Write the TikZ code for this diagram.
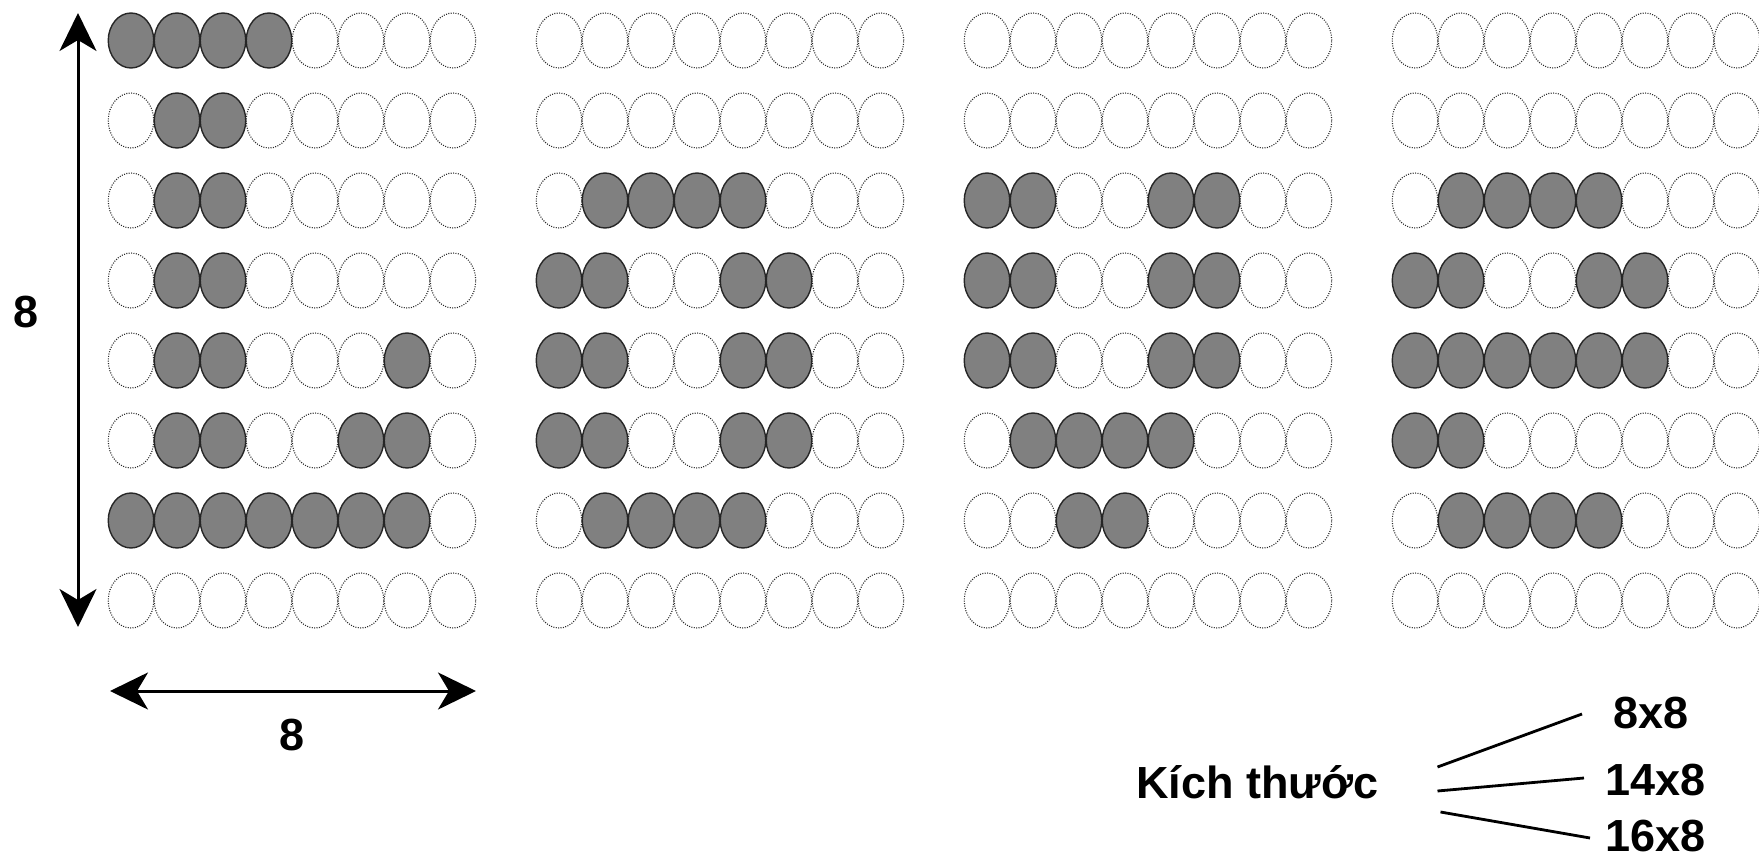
\documentclass[tikz,border=0pt]{standalone}
\usepackage{fontspec}
\setmainfont{Liberation Sans}
\usepackage{xstring}
\usetikzlibrary{calc,positioning,arrows.meta,shapes.geometric}
\definecolor{dotfill}{HTML}{808080}
\definecolor{dotline}{HTML}{2A2A2A}
\definecolor{ink}{HTML}{000000}
\newcommand{\LabelF}{\fontsize{45}{48}\selectfont\bfseries}
\tikzset{
  >={Stealth[length=38pt,width=37pt,inset=11pt]},
  % one cell of a grid
  dotempty/.style={ellipse, minimum width=45.5pt, minimum height=55pt, inner sep=0pt,
                   draw=dotline, dash pattern=on 1pt off 1.4pt, line width=1.1pt},
  dotfull/.style={ellipse, minimum width=45.5pt, minimum height=55pt, inner sep=0pt,
                  fill=dotfill, draw=ink!85, line width=1.4pt},
  dimarrow/.style={<->, draw=ink, line width=3pt},
  lbl/.style={font=\LabelF, text=ink, inner sep=0pt},
  fan/.style={draw=ink, line width=2.8pt},
}
% #1 left edge, #2 name, #3 rows (1 = filled)
\newcommand{\dotgrid}[3]{%
  \foreach \bits [count=\r] in {#3} {
    \foreach \c in {1,...,8} {
      \StrChar{\bits}{\c}[\dotbit]
      \ifnum\dotbit=1
        \node[dotfull] (#2-\r-\c) at (#1+46*\c-23, 40.5+80*\r-80) {};
      \else
        \node[dotempty] (#2-\r-\c) at (#1+46*\c-23, 40.5+80*\r-80) {};
      \fi
    }
  }
}

\begin{document}
\begin{tikzpicture}[x=1pt,y=-1pt]
  \useasboundingbox (0,0) rectangle (1759,859);
  % the four glyph grids
  \dotgrid{108}{ga}{11110000,01100000,01100000,01100000,01100010,01100110,11111110,00000000}
  \dotgrid{536}{gb}{00000000,00000000,01111000,11001100,11001100,11001100,01111000,00000000}
  \dotgrid{964}{gc}{00000000,00000000,11001100,11001100,11001100,01111000,00110000,00000000}
  \dotgrid{1392}{gd}{00000000,00000000,01111000,11001100,11111100,11000000,01111000,00000000}
  % dimensions
  \coordinate (vtop) at (78,13);
  \coordinate (vbot) at (78,627);
  \coordinate (hleft) at (110,691);
  \coordinate (hright) at (476,691);
  \draw[dimarrow] (vtop) -- (vbot);
  \draw[dimarrow] (hleft) -- (hright);
  \node[lbl, anchor=base] (rows) at (26,327) {8};
  \node[lbl, anchor=base] (cols) at (292,750) {8};
  % sizes
  \node[lbl, anchor=base west] (kt) at (1136,798) {Kích thước};
  \node[lbl, anchor=base west] (s8) at (1613,728) {8x8};
  \node[lbl, anchor=base west] (s14) at (1605,795) {14x8};
  \node[lbl, anchor=base west] (s16) at (1605,851) {16x8};
  \draw[fan] ($(kt.base east)+(59,-31)$) -- ($(s8.base west)+(-31,-14)$);
  \draw[fan] ($(kt.base east)+(59,-7)$) -- ($(s14.base west)+(-21,-17)$);
  \draw[fan] ($(kt.base east)+(62,14)$) -- ($(s16.base west)+(-15,-13)$);
\end{tikzpicture}
\end{document}
